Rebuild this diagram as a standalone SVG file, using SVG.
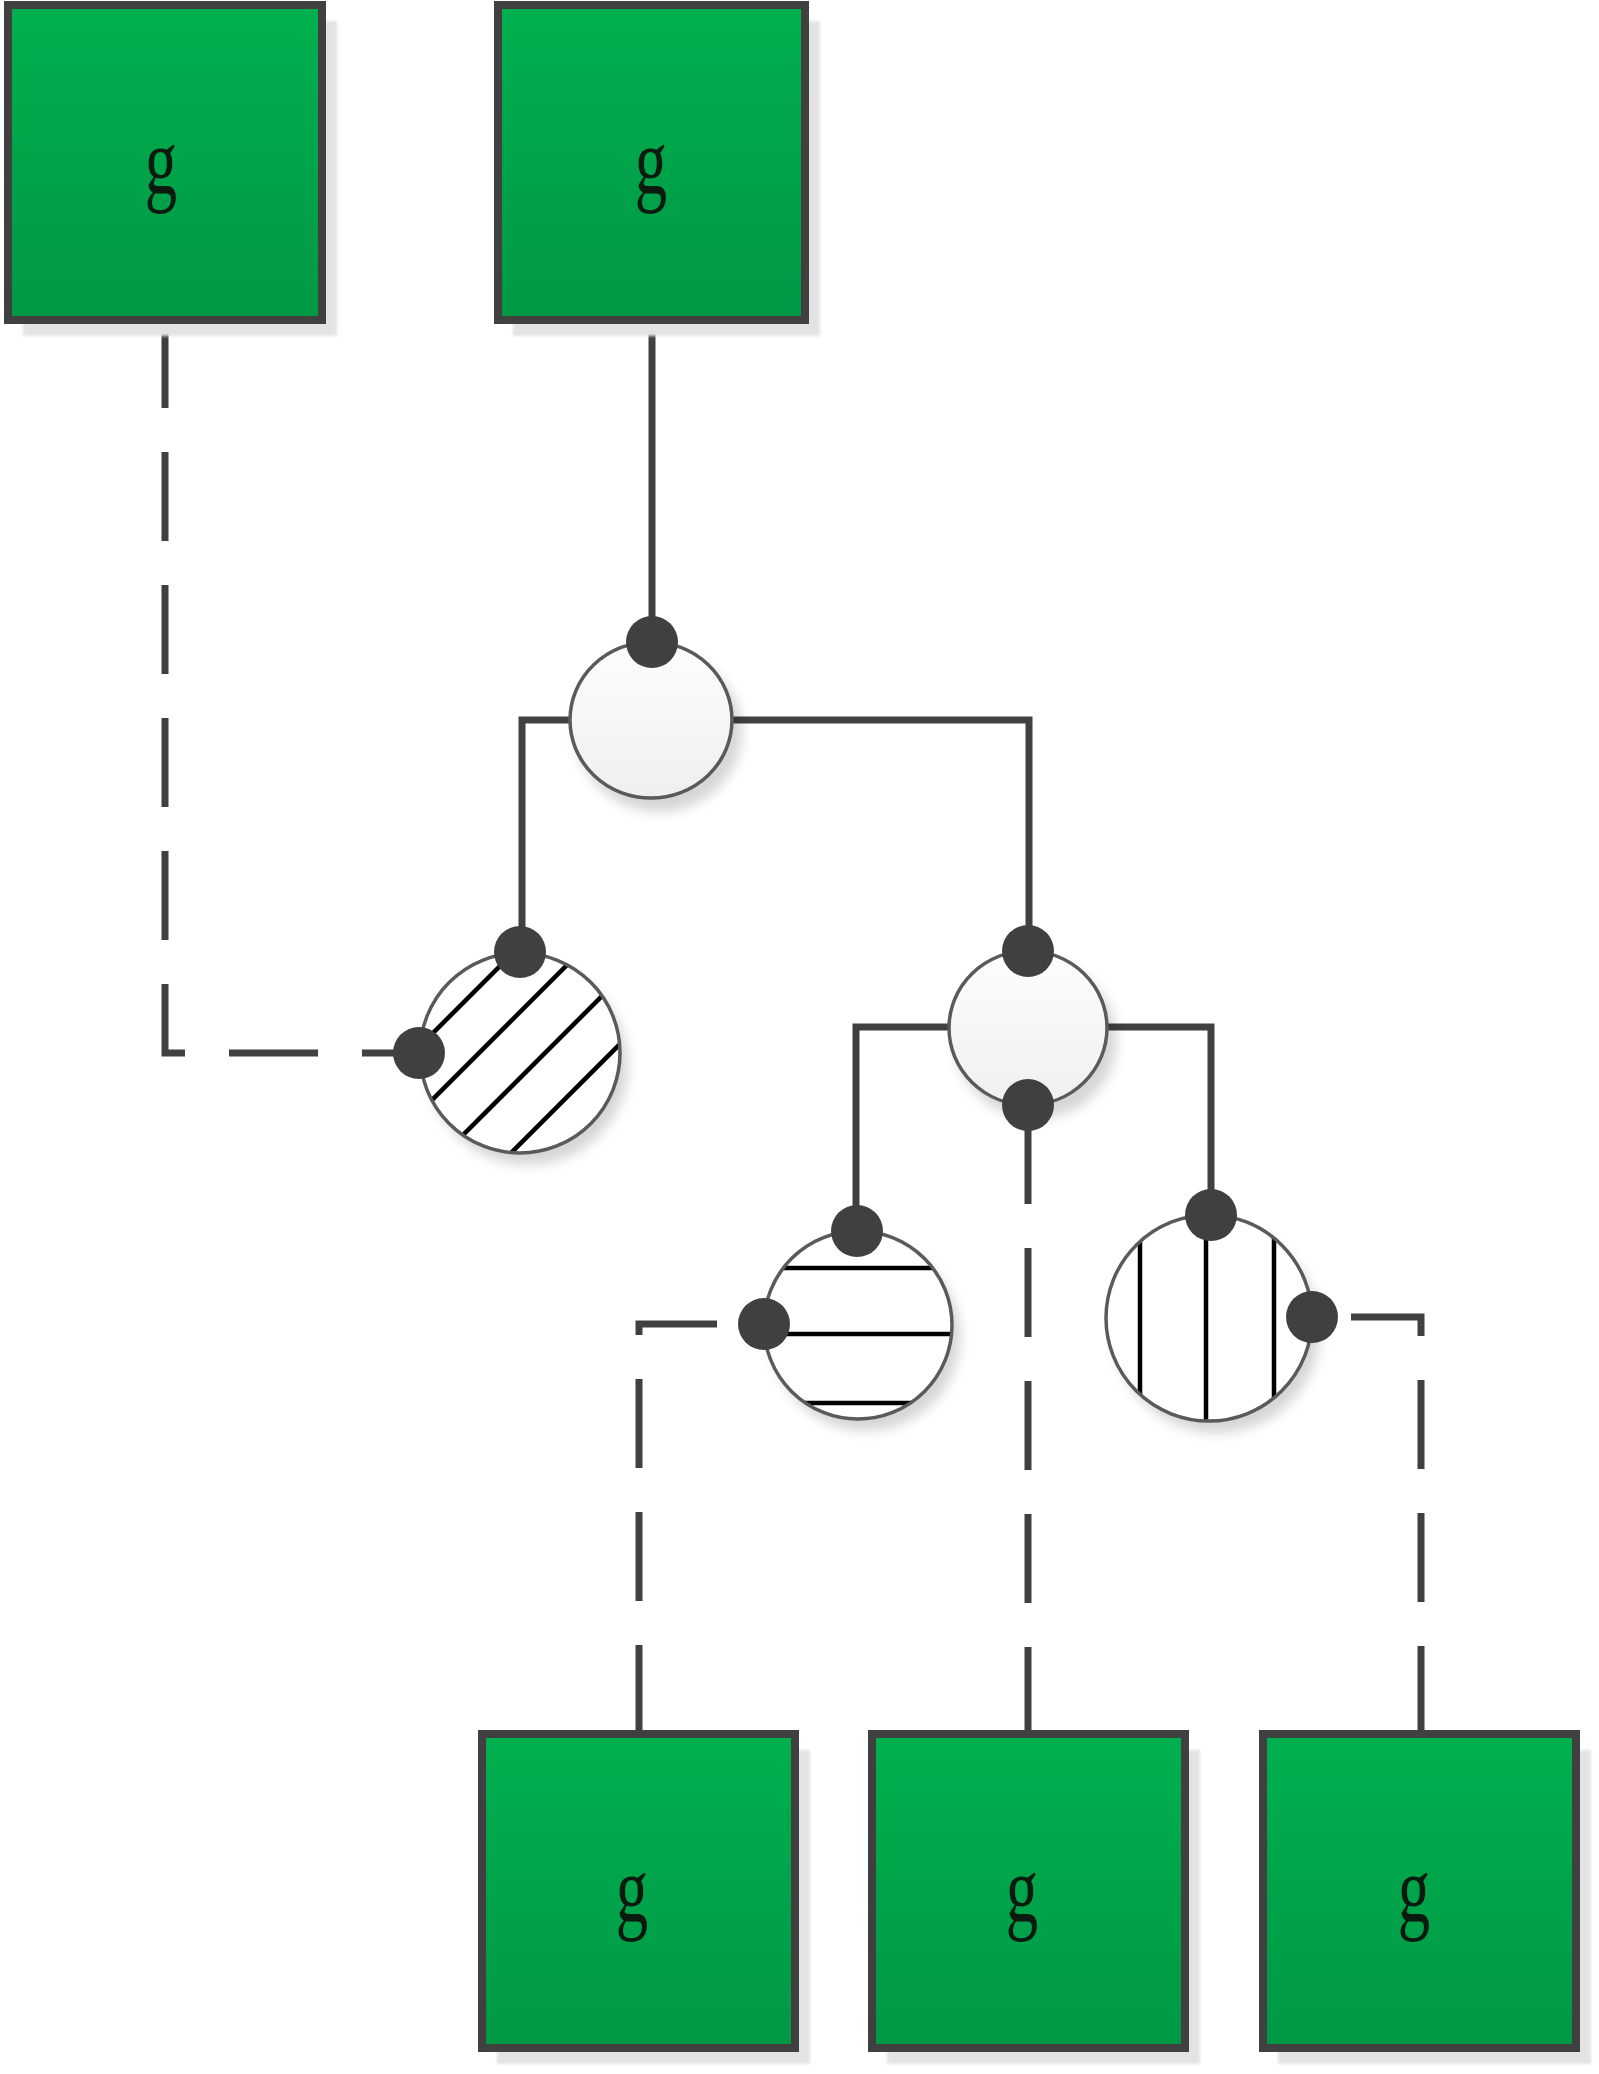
<svg xmlns="http://www.w3.org/2000/svg" width="1599" height="2074" viewBox="0 0 1599 2074">
<style>
.box{stroke:#404040;stroke-width:8;fill:url(#gBox)}
.shadow{fill:#e3e3e3}
.lbl{font-family:"Liberation Serif","DejaVu Serif",serif;font-size:90px;fill:#0b1a0e;text-anchor:middle}
.circ{stroke:#5a5a5a;stroke-width:3.5;fill:url(#gCirc)}
.hatchbg{fill:#ffffff}
.ring{stroke:#5a5a5a;stroke-width:3.5;fill:none}
.port{fill:#404040}
.hatch{stroke:#000;stroke-width:4.5;fill:none}
.solid{stroke:#404040;stroke-width:7;fill:none}
.dash{stroke:#404040;stroke-width:7;fill:none;stroke-dasharray:89 44}
</style>
<defs>
<linearGradient id="gBox" x1="0" y1="0" x2="0" y2="1">
<stop offset="0" stop-color="#00b04f"/>
<stop offset="1" stop-color="#009844"/>
</linearGradient>
<linearGradient id="gCirc" x1="0" y1="0" x2="0" y2="1">
<stop offset="0" stop-color="#fdfdfd"/>
<stop offset="1" stop-color="#efefef"/>
</linearGradient>
<filter id="ds" x="-30%" y="-30%" width="160%" height="160%">
<feDropShadow dx="8" dy="12" stdDeviation="6" flood-color="#000" flood-opacity="0.16"/>
</filter>
<filter id="bl" x="-10%" y="-10%" width="120%" height="120%">
<feGaussianBlur stdDeviation="1.5"/>
</filter>
<clipPath id="cDiag"><circle cx="520" cy="1053" r="100"/></clipPath>
<clipPath id="cHor"><circle cx="858" cy="1325" r="94"/></clipPath>
<clipPath id="cVer"><circle cx="1209" cy="1318" r="103"/></clipPath>
</defs>
<rect width="1599" height="2074" fill="#ffffff"/>

<g id="connectors">
<path class="dash" d="M165,324 V1053 H420" stroke-dashoffset="5"/>
<path class="solid" d="M652,324 V642"/>
<path class="solid" d="M570,720 H522 V953"/>
<path class="solid" d="M732,720 H1029 V951"/>
<path class="solid" d="M949,1027 H856 V1231"/>
<path class="solid" d="M1107,1027 H1211 V1215"/>
<path class="dash" d="M764,1324 H639 V1734" stroke-dashoffset="86"/>
<path class="dash" d="M1028,1105 V1734" stroke-dashoffset="123"/>
<path class="dash" d="M1312,1317 H1421 V1734" stroke-dashoffset="94"/>
</g>

<g id="boxA">
<rect class="shadow" x="23" y="21" width="314" height="315" filter="url(#bl)"/>
<rect class="box" x="8" y="5" width="314" height="315"/>
<text class="lbl" transform="translate(161,194) scale(0.72,1.05)">g</text>
</g>
<g id="boxB">
<rect class="shadow" x="513" y="21" width="307" height="315" filter="url(#bl)"/>
<rect class="box" x="498" y="5" width="307" height="315"/>
<text class="lbl" transform="translate(651,194) scale(0.72,1.05)">g</text>
</g>

<g id="node1">
<ellipse class="circ" cx="651" cy="720" rx="81" ry="78" filter="url(#ds)"/>
<circle class="port" cx="652" cy="642" r="26"/>
</g>

<g id="nodeDiag">
<circle class="hatchbg" cx="520" cy="1053" r="100" filter="url(#ds)"/>
<g clip-path="url(#cDiag)">
<line class="hatch" x1="380" y1="1086" x2="680" y2="786"/>
<line class="hatch" x1="380" y1="1152" x2="680" y2="852"/>
<line class="hatch" x1="380" y1="1218" x2="680" y2="918"/>
<line class="hatch" x1="380" y1="1284" x2="680" y2="984"/>
</g>
<circle class="ring" cx="520" cy="1053" r="100"/>
<circle class="port" cx="520" cy="952" r="26"/>
<circle class="port" cx="419" cy="1053" r="26"/>
</g>

<g id="node2">
<ellipse class="circ" cx="1028" cy="1028" rx="79" ry="77" filter="url(#ds)"/>
<circle class="port" cx="1028" cy="951" r="26"/>
<circle class="port" cx="1028" cy="1105" r="26"/>
</g>

<g id="nodeHor">
<circle class="hatchbg" cx="858" cy="1325" r="94" filter="url(#ds)"/>
<g clip-path="url(#cHor)">
<line class="hatch" x1="740" y1="1268" x2="980" y2="1268"/>
<line class="hatch" x1="740" y1="1334" x2="980" y2="1334"/>
<line class="hatch" x1="740" y1="1403" x2="980" y2="1403"/>
</g>
<circle class="ring" cx="858" cy="1325" r="94"/>
<circle class="port" cx="857" cy="1231" r="26"/>
<circle class="port" cx="764" cy="1324" r="26"/>
</g>

<g id="nodeVer">
<circle class="hatchbg" cx="1209" cy="1318" r="103" filter="url(#ds)"/>
<g clip-path="url(#cVer)">
<line class="hatch" x1="1140" y1="1200" x2="1140" y2="1440"/>
<line class="hatch" x1="1206" y1="1200" x2="1206" y2="1440"/>
<line class="hatch" x1="1274" y1="1200" x2="1274" y2="1440"/>
</g>
<circle class="ring" cx="1209" cy="1318" r="103"/>
<circle class="port" cx="1211" cy="1215" r="26"/>
<circle class="port" cx="1312" cy="1317" r="26"/>
</g>

<g id="boxC">
<rect class="shadow" x="497" y="1750" width="313" height="314" filter="url(#bl)"/>
<rect class="box" x="482" y="1734" width="313" height="314"/>
<text class="lbl" transform="translate(632,1922) scale(0.72,1.05)">g</text>
</g>
<g id="boxD">
<rect class="shadow" x="887" y="1750" width="313" height="314" filter="url(#bl)"/>
<rect class="box" x="872" y="1734" width="313" height="314"/>
<text class="lbl" transform="translate(1022,1922) scale(0.72,1.05)">g</text>
</g>
<g id="boxE">
<rect class="shadow" x="1278" y="1750" width="313" height="314" filter="url(#bl)"/>
<rect class="box" x="1263" y="1734" width="313" height="314"/>
<text class="lbl" transform="translate(1414,1922) scale(0.72,1.05)">g</text>
</g>
</svg>
